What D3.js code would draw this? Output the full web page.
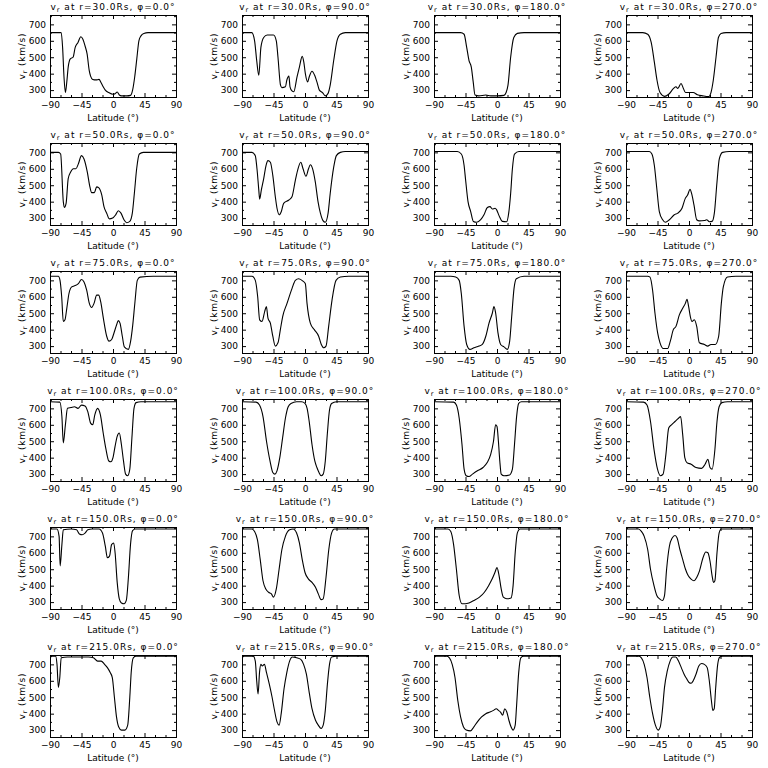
<!DOCTYPE html>
<html><head><meta charset="utf-8">
<script src="https://cdn.jsdelivr.net/npm/d3@7"></script>
<style>body{margin:0;background:#fff}svg{display:block}</style>
</head><body><svg id="c" width="768" height="768"></svg>
<script>
const radii = [30, 50, 75, 100, 150, 215];
const phis = [0, 90, 180, 270];
const xTicks = [-90, -45, 0, 45, 90];
const xMinor = [-75, -60, -30, -15, 15, 30, 60, 75];
const yTicks = [300, 400, 500, 600, 700];
const yMinor = [350, 450, 550, 650, 750];
const latDomain = [-90, 90];
const vDomain = [258, 757];

// [latitude (deg), v_r (km/s)]
const r30_p0 = [[-90,650],[-74,650],[-72,560],[-70,380],[-68,285],[-66,350],[-64,440],[-61,490],[-57,500],[-54,560],[-50,590],[-46,625],[-43,610],[-40,570],[-37,520],[-34,420],[-32,385],[-29,365],[-24,362],[-20,365],[-17,345],[-14,320],[-11,300],[-6,285],[0,275],[3,278],[6,288],[9,270],[12,265],[20,265],[25,268],[28,300],[31,380],[34,490],[37,600],[40,630],[44,645],[50,650],[90,650]];
const r30_p90 = [[-90,650],[-76,650],[-72,600],[-69,480],[-66,390],[-63,560],[-59,620],[-54,635],[-45,635],[-41,600],[-38.6,500],[-35,330],[-33,315],[-28,320],[-26,360],[-23,385],[-21.4,320],[-18.6,295],[-16,290],[-11.4,380],[-8,440],[-4,505],[-1.7,470],[0.5,400],[3.8,350],[6,380],[10,415],[13.8,390],[17,350],[20.5,300],[25,285],[29,265],[33,280],[36,330],[41,480],[45.7,600],[50.5,640],[57.6,650],[90,650]];
const r30_p180 = [[-90,650],[-52,650],[-47,640],[-43.3,560],[-40,480],[-36.7,440],[-34,350],[-31.4,270],[-26,265],[-16,270],[-9,265],[0.5,265],[10,268],[13,285],[15.7,330],[19.5,500],[24,620],[29,645],[38.6,650],[90,650]];
const r30_p270 = [[-90,650],[-66,650],[-59,640],[-54,590],[-49.5,470],[-45.7,360],[-41.4,285],[-35,262],[-29,275],[-22,310],[-18.6,320],[-16,310],[-11.4,340],[-8,310],[-5,285],[0.5,285],[6,285],[12,272],[19.5,265],[28,260],[31.4,285],[34.7,360],[38.6,500],[42,620],[45.7,645],[53,650],[90,650]];

const r50_p0 = [[-90,700],[-78,700],[-74.8,690],[-71,400],[-69.5,365],[-67,390],[-64,540],[-60.5,580],[-56.7,600],[-53,600],[-49.5,630],[-45,680],[-41.4,660],[-36.7,580],[-33,490],[-30.5,455],[-26.7,455],[-23.3,490],[-20.5,485],[-16,440],[-12.9,370],[-9,330],[-5.3,295],[-0.5,300],[3.8,320],[7.6,345],[11.4,330],[15.7,290],[19.5,272],[24,280],[27.6,330],[30.5,450],[33.8,600],[37.6,690],[43.3,700],[90,700]];
const r50_p90 = [[-90,700],[-75.7,700],[-71,680],[-68.6,600],[-66,470],[-64.8,415],[-62.4,470],[-59,540],[-55.7,620],[-52.9,650],[-49.5,640],[-46,560],[-42.4,430],[-40,360],[-36.7,320],[-33.8,340],[-30.5,390],[-23,410],[-18.6,430],[-13.8,530],[-10,600],[-6,640],[-2.8,600],[1.4,555],[5,600],[7.6,625],[10.9,600],[14.7,520],[18.6,400],[22,330],[25.7,285],[29,275],[33,330],[36,450],[41,610],[44.8,680],[50.5,700],[57.6,705],[90,705]];
const r50_p180 = [[-90,705],[-56.7,705],[-51,690],[-47,620],[-44.8,530],[-41.4,400],[-37.6,340],[-33.8,280],[-29,275],[-23.3,290],[-18.6,320],[-13.8,365],[-10,370],[-6.7,355],[-2.8,360],[-0.5,350],[2.9,315],[7.6,280],[13.8,278],[16.7,330],[19.5,450],[22,600],[25,690],[31.4,705],[90,705]];
const r50_p270 = [[-90,705],[-56.7,705],[-53,690],[-49.5,620],[-46,480],[-42.4,340],[-37.6,290],[-33.8,275],[-28,290],[-21,320],[-16,330],[-10,360],[-5.3,420],[-2,440],[1.4,475],[4.3,440],[7.1,380],[11,290],[14.8,283],[22,285],[25.2,290],[29,278],[33,280],[36.2,330],[40,520],[43.3,660],[48,700],[57.6,705],[90,705]];

const r75_p0 = [[-90,725],[-78,725],[-75.7,700],[-73.3,600],[-71,450],[-68.6,460],[-66,530],[-62.9,620],[-59,660],[-53,670],[-49.5,680],[-45,705],[-41.4,690],[-37.6,640],[-33.8,560],[-30.5,535],[-27.1,560],[-23.3,610],[-20.5,610],[-17.6,570],[-13.8,470],[-9,360],[-5.7,330],[-1.9,340],[1.4,380],[5.2,430],[7.6,455],[10,440],[13.3,360],[16.2,295],[21.9,280],[25.2,330],[28,420],[31.4,570],[34.7,700],[38.6,720],[57.6,725],[90,725]];
const r75_p90 = [[-90,725],[-75.7,725],[-71,700],[-67.6,600],[-64.8,460],[-61.4,450],[-57.6,510],[-55.2,540],[-52.9,470],[-49.5,440],[-46,360],[-42.4,300],[-38.6,320],[-35.2,400],[-31.9,480],[-25.7,560],[-18.6,650],[-13.8,700],[-9,710],[-2.9,695],[0.5,680],[2.9,560],[7.6,440],[13.3,400],[19.5,360],[23.3,310],[26.7,290],[30,300],[33.8,420],[38.6,580],[44.3,700],[50.5,720],[62.4,725],[90,725]];
const r75_p180 = [[-90,725],[-66,725],[-59,720],[-54,700],[-51,620],[-47,420],[-43.3,310],[-38.6,280],[-32.9,290],[-25.7,300],[-21,310],[-16,360],[-11.4,440],[-6.7,500],[-4.3,540],[-1.9,500],[1.4,380],[5.2,310],[10,295],[14.8,280],[18.1,330],[21,480],[24.3,650],[27.6,710],[38.6,725],[90,725]];
const r75_p270 = [[-90,725],[-59,725],[-55.7,720],[-52,640],[-48.6,500],[-44.8,380],[-41.4,320],[-36.7,285],[-30.5,285],[-26.7,330],[-22.4,400],[-18.6,420],[-13.8,490],[-9,530],[-5.2,560],[-2.9,585],[-0.5,540],[1.9,480],[4.3,450],[7.6,460],[11,420],[14.8,320],[22,310],[26.7,300],[31.4,310],[37.6,310],[42.4,360],[46.2,560],[49,660],[55,720],[67,725],[90,725]];

const r100_p0 = [[-90,740],[-76,738],[-73,650],[-71,490],[-68,600],[-65,700],[-60,705],[-55,710],[-50,700],[-45,720],[-40,715],[-36,680],[-32,610],[-29,600],[-26,660],[-22,700],[-18,660],[-14,550],[-10,450],[-6,380],[-3,375],[0,400],[3,470],[6,530],[9,550],[12,480],[15,380],[18,300],[21,290],[24,330],[27,520],[30,700],[33,735],[40,740],[90,740]];
const r100_p90 = [[-90,740],[-70,738],[-65,720],[-60,650],[-55,500],[-50,380],[-46,310],[-43,300],[-40,320],[-36,400],[-32,520],[-28,640],[-24,710],[-20,730],[-12,740],[-5,740],[0,730],[3,700],[6,620],[10,480],[14,380],[17,340],[20,310],[23,290],[26,300],[29,380],[32,550],[35,690],[38,730],[45,740],[90,740]];
const r100_p180 = [[-90,740],[-62,738],[-58,720],[-54,640],[-50,480],[-47,330],[-44,290],[-40,285],[-35,300],[-28,320],[-20,340],[-14,370],[-9,420],[-5,500],[-2,600],[0,590],[2,500],[4,380],[6,300],[10,290],[18,295],[22,330],[25,480],[28,650],[31,730],[35,740],[90,740]];
const r100_p270 = [[-90,740],[-65,738],[-60,720],[-55,620],[-50,450],[-45,330],[-41,290],[-37,300],[-33,420],[-29,580],[-25,600],[-20,620],[-15,640],[-12,650],[-9,540],[-6,400],[-3,370],[3,360],[10,340],[18,335],[23,360],[27,390],[30,340],[33,330],[37,450],[40,620],[43,710],[47,735],[55,740],[90,740]];

const r150_p0 = [[-90,745],[-80,745],[-77,700],[-75.5,520],[-73,650],[-71,740],[-60,745],[-52,740],[-48,715],[-44,710],[-40,720],[-36,740],[-30,745],[-20,745],[-15,720],[-11,640],[-8,570],[-5,580],[-2,650],[1,660],[3,600],[6,420],[9,320],[12,295],[16,290],[19,310],[22,450],[25,650],[28,735],[32,745],[90,745]];
const r150_p90 = [[-90,745],[-76,745],[-72,730],[-68,680],[-64,560],[-60,430],[-56,380],[-52,360],[-48,350],[-45,330],[-41,380],[-37,500],[-33,620],[-28,700],[-22,740],[-17,745],[-12,720],[-8,660],[-4,560],[0,480],[5,440],[10,420],[15,390],[19,350],[23,315],[26,320],[30,450],[34,620],[38,720],[42,745],[90,745]];
const r150_p180 = [[-90,745],[-70,745],[-66,730],[-62,650],[-58,500],[-54,340],[-50,290],[-45,290],[-40,295],[-33,310],[-25,330],[-18,360],[-12,400],[-7,440],[-3,480],[0,510],[3,460],[6,380],[9,330],[14,320],[20,325],[23,400],[26,600],[29,720],[33,745],[90,745]];
const r150_p270 = [[-90,745],[-72,745],[-68,730],[-64,700],[-59,620],[-55,500],[-50,400],[-46,340],[-42,320],[-38,310],[-35,340],[-32,500],[-28,640],[-24,690],[-20,705],[-17,690],[-13,620],[-9,560],[-5,500],[-1,460],[3,440],[7,430],[11,450],[15,490],[20,570],[24,605],[27,600],[30,550],[33,460],[35,420],[37,430],[40,600],[43,720],[46,745],[90,745]];

const r215_p0 = [[-90,750],[-82,750],[-80,700],[-78,560],[-76,620],[-74,740],[-65,745],[-50,745],[-35,745],[-28,740],[-22,720],[-17,720],[-12,700],[-8,680],[-4,650],[-1,620],[2,500],[5,380],[8,320],[12,300],[17,300],[21,330],[24,500],[26,650],[29,740],[33,750],[90,750]];
const r215_p90 = [[-90,750],[-74,750],[-71,720],[-69,600],[-67,520],[-65,650],[-63,700],[-61,690],[-58,700],[-55,650],[-51,580],[-47,500],[-44,430],[-40,350],[-37,330],[-34,400],[-30,550],[-26,650],[-22,720],[-18,745],[-12,740],[-6,730],[-2,700],[2,640],[6,530],[10,430],[15,360],[19,330],[23,310],[26,330],[29,420],[32,580],[35,700],[38,745],[45,750],[90,750]];
const r215_p180 = [[-90,750],[-72,750],[-68,740],[-64,700],[-60,620],[-56,480],[-52,380],[-48,320],[-44,300],[-38,295],[-33,320],[-28,350],[-22,380],[-16,400],[-10,410],[-5,420],[-1,430],[2,420],[5,410],[8,390],[11,430],[14,410],[17,360],[20,320],[23,300],[26,330],[28,450],[31,650],[34,740],[38,750],[90,750]];
const r215_p270 = [[-90,750],[-72,750],[-68,740],[-64,700],[-60,620],[-56,500],[-52,400],[-48,330],[-44,300],[-41,320],[-38,420],[-35,560],[-31,660],[-27,720],[-23,745],[-19,745],[-15,720],[-11,680],[-7,640],[-3,610],[0,590],[3,585],[6,600],[10,640],[14,690],[18,705],[22,700],[26,680],[29,600],[32,480],[34,420],[36,430],[38,550],[41,700],[44,745],[48,750],[90,750]];

const curves = [
  [r30_p0, r30_p90, r30_p180, r30_p270],
  [r50_p0, r50_p90, r50_p180, r50_p270],
  [r75_p0, r75_p90, r75_p180, r75_p270],
  [r100_p0, r100_p90, r100_p180, r100_p270],
  [r150_p0, r150_p90, r150_p180, r150_p270],
  [r215_p0, r215_p90, r215_p180, r215_p270]
];

const FONT = "'DejaVu Sans', 'Liberation Sans', sans-serif";
const FS = 9;
const cellW = 192, cellH = 128;
const m = {left: 50, right: 16, top: 15, bottom: 31};
const pw = cellW - m.left - m.right, ph = cellH - m.top - m.bottom;

const svg = d3.select("#c");
svg.append("rect").attr("width", 768).attr("height", 768).attr("fill", "#fff");

const x = d3.scaleLinear().domain(latDomain).range([0, pw]);
const y = d3.scaleLinear().domain(vDomain).range([ph, 0]);
const line = d3.line().x(d => x(d[0])).y(d => y(d[1])).curve(d3.curveMonotoneX);

svg.append("defs").append("clipPath").attr("id", "clip")
  .append("rect").attr("width", pw).attr("height", ph);

radii.forEach((r, ri) => {
  phis.forEach((p, pi) => {
    const g = svg.append("g")
      .attr("transform", `translate(${pi * cellW + m.left},${ri * cellH + m.top})`)
      .style("font-family", FONT).style("font-size", FS + "px");

    // title
    const t = g.append("text").attr("x", pw / 2).attr("y", -5).attr("text-anchor", "middle")
      .attr("fill", "#000").style("letter-spacing", "1px");
    t.append("tspan").text("v");
    t.append("tspan").attr("font-size", "6.5px").attr("dy", 2).text("r");
    t.append("tspan").attr("dy", -2).text(` at r=${r.toFixed(1)}Rs, \u03C6=${p.toFixed(1)}\u00B0`);

    const styleAxis = sel => {
      sel.select(".domain").remove();
      sel.selectAll("line").attr("stroke", "#000");
      sel.selectAll("text").attr("fill", "#000").style("font-family", FONT).style("font-size", FS + "px");
    };
    g.append("g").attr("transform", `translate(0,${ph})`)
      .call(d3.axisBottom(x).tickValues(xTicks).tickSize(-4).tickPadding(5).tickFormat(d3.format("d"))).call(styleAxis);
    g.append("g").attr("transform", `translate(0,${ph})`)
      .call(d3.axisBottom(x).tickValues(xMinor).tickSize(-2).tickFormat("")).call(styleAxis);
    g.append("g").call(d3.axisTop(x).tickValues(xTicks).tickSize(-4).tickFormat("")).call(styleAxis);
    g.append("g").call(d3.axisTop(x).tickValues(xMinor).tickSize(-2).tickFormat("")).call(styleAxis);
    g.append("g").call(d3.axisLeft(y).tickValues(yTicks).tickSize(-4).tickPadding(4).tickFormat(d3.format("d"))).call(styleAxis);
    g.append("g").call(d3.axisLeft(y).tickValues(yMinor).tickSize(-2).tickFormat("")).call(styleAxis);
    g.append("g").attr("transform", `translate(${pw},0)`)
      .call(d3.axisRight(y).tickValues(yTicks).tickSize(-4).tickFormat("")).call(styleAxis);
    g.append("g").attr("transform", `translate(${pw},0)`)
      .call(d3.axisRight(y).tickValues(yMinor).tickSize(-2).tickFormat("")).call(styleAxis);

    g.append("rect").attr("width", pw).attr("height", ph).attr("fill", "none").attr("stroke", "#000").attr("stroke-width", 1).attr("shape-rendering", "crispEdges");

    g.append("path").datum(curves[ri][pi]).attr("clip-path", "url(#clip)")
      .attr("d", line).attr("fill", "none").attr("stroke", "#000").attr("stroke-width", 1.1);

    g.append("text").attr("x", pw / 2).attr("y", ph + 24).attr("text-anchor", "middle").attr("fill", "#000")
      .text("Latitude (\u00B0)");
    const yl = g.append("text").attr("transform", `translate(-25,${ph / 2}) rotate(-90)`).attr("text-anchor", "middle")
      .attr("fill", "#000").style("letter-spacing", "0.8px");
    yl.append("tspan").text("v");
    yl.append("tspan").attr("font-size", "6.5px").attr("dy", 2).text("r");
    yl.append("tspan").attr("dy", -2).text(" (km/s)");
  });
});
</script></body></html>
